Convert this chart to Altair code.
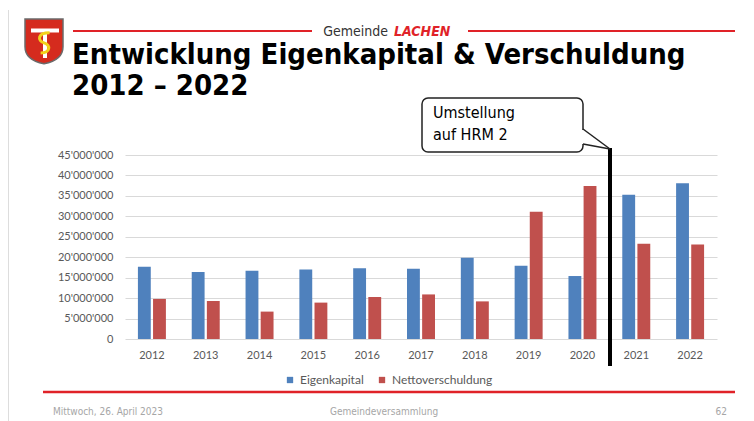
import altair as alt
import pandas as pd

years = ["2012", "2013", "2014", "2015", "2016", "2017", "2018", "2019", "2020", "2021", "2022"]
eigenkapital = [17.7e6, 16.4e6, 16.7e6, 17.0e6, 17.3e6, 17.2e6, 19.9e6, 17.9e6, 15.4e6, 35.3e6, 38.1e6]
nettoverschuldung = [9.8e6, 9.3e6, 6.7e6, 8.9e6, 10.3e6, 10.9e6, 9.2e6, 31.1e6, 37.4e6, 23.3e6, 23.1e6]
series = ["Eigenkapital", "Nettoverschuldung"]
colors = ["#4F81BD", "#C0504D"]
y_ticks = [0, 5e6, 10e6, 15e6, 20e6, 25e6, 30e6, 35e6, 40e6, 45e6]

title_line1 = "Entwicklung Eigenkapital & Verschuldung"
title_line2 = "2012 – 2022"
header_left = "Gemeinde"
header_right = "LACHEN"
callout_lines = ["Umstellung", "auf HRM 2"]
footer_date = "Mittwoch, 26. April 2023"
footer_mid = "Gemeindeversammlung"
footer_page = "62"

rows = []
for i, yr in enumerate(years):
    rows.append({"year": yr, "series": series[0], "value": eigenkapital[i]})
    rows.append({"year": yr, "series": series[1], "value": nettoverschuldung[i]})
df = pd.DataFrame(rows)

TITLE_FONT = "DejaVu Sans Condensed, DejaVu Sans"
AXIS_FONT = "Lato"

bars = alt.Chart(df).mark_bar().encode(
    x=alt.X("year:N", sort=years,
            scale=alt.Scale(paddingInner=0.48, paddingOuter=0.24),
            axis=alt.Axis(title=None, labelAngle=0, domain=False, ticks=False,
                          labelPadding=10, labelFont=AXIS_FONT, labelFontSize=11,
                          labelColor="#595959")),
    xOffset=alt.XOffset("series:N", sort=series, scale=alt.Scale(paddingInner=0.15)),
    y=alt.Y("value:Q", scale=alt.Scale(domain=[0, 45e6], nice=False),
            axis=alt.Axis(values=y_ticks, title=None, domain=False, ticks=False,
                          gridColor="#D9D9D9", labelPadding=12, labelFont=AXIS_FONT,
                          labelFontSize=11, labelColor="#595959",
                          labelExpr="replace(format(datum.value, ','), regexp(',', 'g'), \"'\")")),
    color=alt.Color("series:N", scale=alt.Scale(domain=series, range=colors),
                    legend=alt.Legend(title=None, orient="none", legendX=159, legendY=219,
                                      direction="horizontal", symbolType="square",
                                      symbolSize=40, labelFont=AXIS_FONT, labelFontSize=12,
                                      labelColor="#595959", columnPadding=12, padding=0,
                                      symbolStrokeWidth=0))
)

one = pd.DataFrame({"a": [0]})


def txt(s, x, y, **kw):
    return alt.Chart(pd.DataFrame({"t": [s]})).mark_text(**kw).encode(
        x=alt.value(x), y=alt.value(y), text="t:N")


def rule(x1, y1, x2, y2, color, w):
    return alt.Chart(one).mark_rule(color=color, strokeWidth=w).encode(
        x=alt.value(x1), x2=alt.value(x2), y=alt.value(y1), y2=alt.value(y2))


# page -> plot coordinates: subtract (125, 155)
OX, OY = 125, 155
def px(v): return v - OX
def py(v): return v - OY

RED = "#E02228"
layers = [bars]

# slide left edge
layers.append(rule(px(8.5), py(10), px(8.5), py(421), "#DDDDDD", 1))

# header red lines
layers.append(rule(px(73), py(31), px(312), py(31), RED, 2))
layers.append(rule(px(468), py(31), px(735), py(31), RED, 2))
layers.append(txt(header_left, px(388), py(35.5), align="right", baseline="alphabetic",
                  font=TITLE_FONT, fontSize=14, color="#333333"))
layers.append(txt(header_right, px(394), py(35.5), align="left", baseline="alphabetic",
                  font=TITLE_FONT, fontSize=14, fontWeight="bold", fontStyle="italic",
                  color=RED))

# logo: shield
shield = "M-1,-1.1 L1,-1.1 L1,0.35 C1,0.95 0.5,1.15 0,1.25 C-0.5,1.15 -1,0.95 -1,0.35 Z"
layers.append(alt.Chart(one).mark_point(shape=shield, size=1444, filled=True,
                                         fill="#D52B1E", stroke="#6B6B6B",
                                         strokeWidth=1.5, opacity=1).encode(
    x=alt.value(px(44)), y=alt.value(py(40))))
layers.append(rule(px(31), py(30.5), px(59), py(30.5), "#FFFFFF", 4))
layers.append(rule(px(45), py(30), px(45), py(58), "#FFFFFF", 4))
snake = "M0.5,-1 C-0.6,-1 -0.6,-0.3 0,-0.1 C0.6,0.1 0.6,0.8 -0.3,0.8"
layers.append(alt.Chart(one).mark_point(shape=snake, size=500, filled=False,
                                         stroke="#F2D21B", strokeWidth=3, opacity=1).encode(
    x=alt.value(px(44)), y=alt.value(py(44))))

# title
layers.append(txt(title_line1, px(72), py(64), align="left", baseline="alphabetic",
                  font=TITLE_FONT, fontSize=29, fontWeight="bold", color="#000000"))
layers.append(txt(title_line2, px(72), py(95), align="left", baseline="alphabetic",
                  font=TITLE_FONT, fontSize=29, fontWeight="bold", color="#000000"))

# HRM2 marker line
layers.append(rule(px(610), py(148), px(610), py(366), "#000000", 4))

# callout
layers.append(alt.Chart(one).mark_rect(fill="#FFFFFF", stroke="#222222", strokeWidth=1.5,
                                        cornerRadius=6).encode(
    x=alt.value(px(422)), x2=alt.value(px(583)), y=alt.value(py(98)), y2=alt.value(py(152))))
layers.append(rule(px(583), py(130), px(583), py(144), "#FFFFFF", 4))
layers.append(rule(px(583), py(129), px(610), py(149), "#222222", 1.5))
layers.append(rule(px(583), py(144), px(610), py(149), "#222222", 1.5))
layers.append(txt(callout_lines[0], px(433), py(118), align="left", baseline="alphabetic",
                  font=TITLE_FONT, fontSize=16, color="#000000"))
layers.append(txt(callout_lines[1], px(433), py(140), align="left", baseline="alphabetic",
                  font=TITLE_FONT, fontSize=16, color="#000000"))

# footer
layers.append(rule(px(43), py(392), px(735), py(392), RED, 2.5))
layers.append(txt(footer_date, px(53), py(415), align="left", baseline="alphabetic",
                  font=TITLE_FONT, fontSize=10, color="#A6A6A6"))
layers.append(txt(footer_mid, px(384), py(415), align="center", baseline="alphabetic",
                  font=TITLE_FONT, fontSize=10, color="#A6A6A6"))
layers.append(txt(footer_page, px(727), py(415), align="right", baseline="alphabetic",
                  font=TITLE_FONT, fontSize=10, color="#A6A6A6"))

chart = alt.layer(*layers).properties(
    width=592, height=184,
    autosize=alt.AutoSizeParams(type="none"),
    padding={"left": 117, "top": 147, "right": 29, "bottom": 82},
    background="#FFFFFF",
).configure_view(stroke=None)

chart.save("out.html", embed_options={"renderer": "svg", "actions": False})
